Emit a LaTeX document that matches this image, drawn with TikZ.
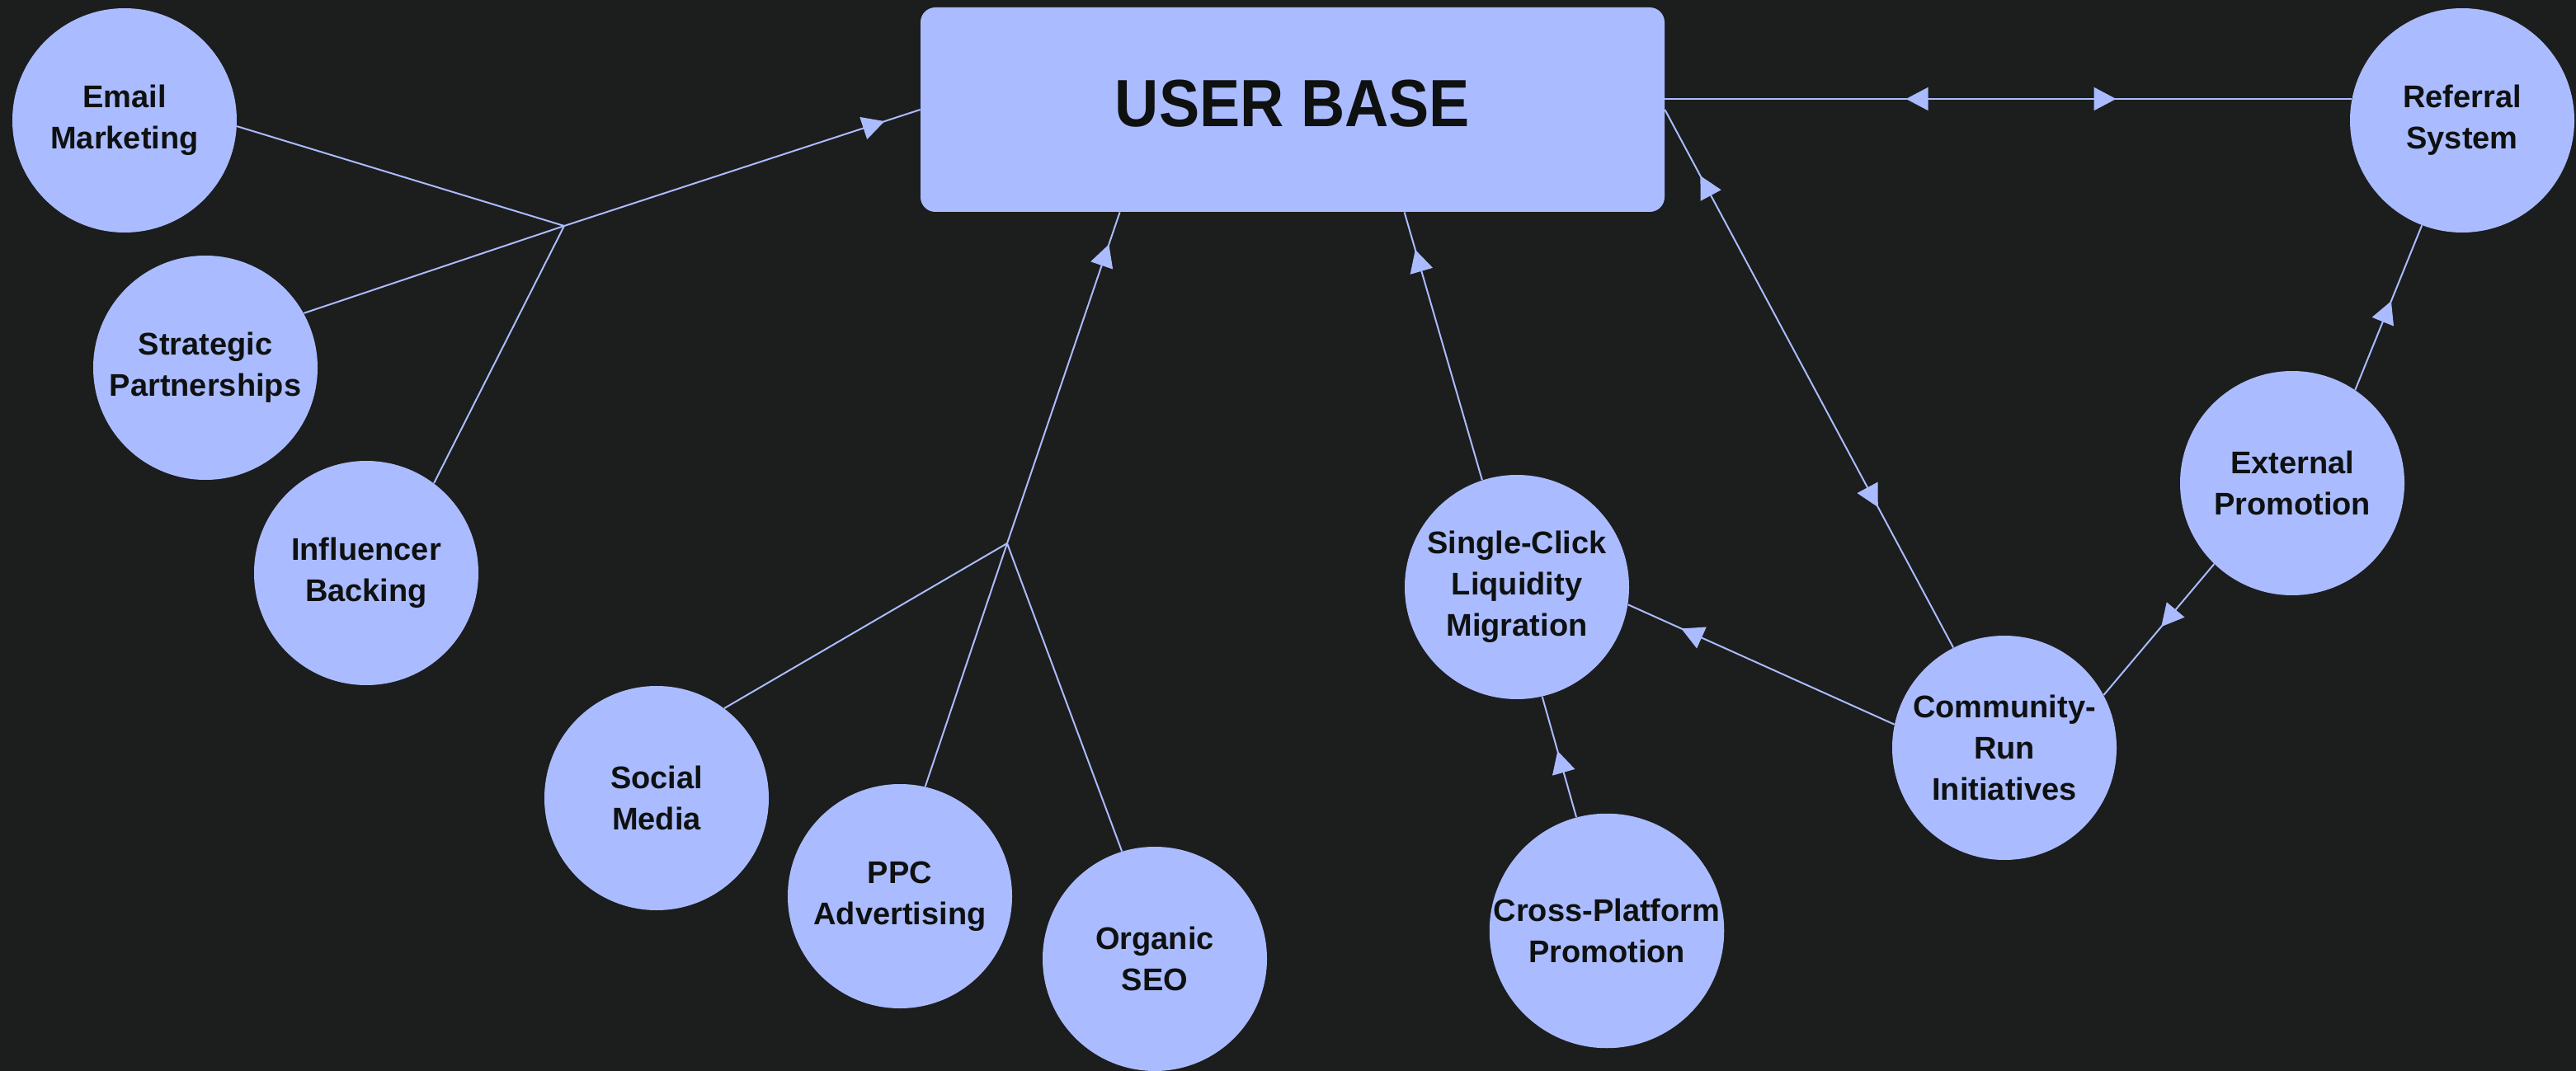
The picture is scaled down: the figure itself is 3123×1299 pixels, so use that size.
\documentclass[tikz,border=0pt]{standalone}
\usepackage{fontspec}
\setmainfont{Liberation Sans}
\usetikzlibrary{arrows.meta,decorations.markings,calc}
\definecolor{bgc}{HTML}{1C1D1D}
\definecolor{lav}{HTML}{AABCFF}
\definecolor{ink}{HTML}{0F1111}
\tikzset{
  bub/.style={circle, fill=lav, minimum size=136pt, inner sep=0pt, align=center,
    text=ink, font=\fontsize{19pt}{25pt}\selectfont\bfseries},
  hubbox/.style={rectangle, rounded corners=9pt, fill=lav, minimum width=451pt,
    minimum height=124pt, inner sep=0pt, text=ink, text depth=8pt,
    font=\fontsize{40.5pt}{48pt}\selectfont\bfseries},
  conn/.style={color=lav, line width=1pt},
  tipat/.style={postaction={decorate, decoration={markings,
    mark=at position #1 with {\arrow[lav]{Triangle[length=13.5pt,width=14pt]}}}}},
  tipback/.style={postaction={decorate, decoration={markings,
    mark=at position #1 with {\arrowreversed[lav]{Triangle[length=13.5pt,width=14pt]}}}}}
}
\begin{document}
\begin{tikzpicture}[x=0.5pt, y=-0.5pt]
  \fill[bgc] (0,0) rectangle (3123,1299);
  \useasboundingbox (0,0) rectangle (3123,1299);

  % hub
  \node[hubbox] (box) at (1567,133) {\scalebox{0.91}[1]{USER BASE}};

  % bubbles
  \node[bub] (email) at (151,146) {Email\\Marketing};
  \node[bub] (strat) at (249,446) {Strategic\\Partnerships};
  \node[bub] (infl)  at (444,695) {Influencer\\Backing};
  \node[bub] (social) at (796,968) {Social\\Media};
  \node[bub] (ppc)   at (1091,1087) {PPC\\Advertising};
  \node[bub] (seo)   at (1400,1163) {Organic\\SEO};
  \node[bub] (single) at (1839,712) {Single-Click\\Liquidity\\Migration};
  \node[bub] (cross) at (1948,1129) {Cross-Platform\\Promotion};
  \node[bub] (comm)  at (2430,907) {Community-\\Run\\Initiatives};
  \node[bub] (ext)   at (2779,586) {External\\Promotion};
  \node[bub] (ref)   at (2985,146) {Referral\\System};

  % junctions
  \coordinate (j1) at (684,274);
  \coordinate (j2) at (1221,659);
  \coordinate (bsoc) at ($(box.south west)+(242,0)$);
  \coordinate (bsin) at ($(box.south west)+(587,0)$);

  % left group
  \draw[conn] (email.-3) -- (j1);
  \draw[conn] (strat.29.7) -- (j1);
  \draw[conn] (infl.53.3) -- (j1);
  \draw[conn, tipat=0.9] (j1) -- (box.west);

  % bottom group
  \draw[conn] (social.53.6) -- (j2);
  \draw[conn] (ppc.77) -- (j2);
  \draw[conn] (seo.107) -- (j2);
  \draw[conn, tipat=0.903] (j2) -- (bsoc);

  % right side
  \draw[conn, tipat=0.86] (single.108.7) -- (bsin);
  \draw[conn, tipback=0.123, tipat=0.739] (box.east) -- (comm.117.5);
  \draw[conn, tipback=0.351, tipat=0.657] (box.east |- ref.169.6) -- (ref.169.6);
  \draw[conn, tipat=0.80] (comm.168.4) -- (single.-9.3);
  \draw[conn, tipat=0.55] (cross.105) -- (single.-77.7);
  \draw[conn, tipat=0.48] (ext.-134.4) -- (comm.28.4);
  \draw[conn, tipat=0.54] (ext.56.5) -- (ref.-111);
\end{tikzpicture}
\end{document}
